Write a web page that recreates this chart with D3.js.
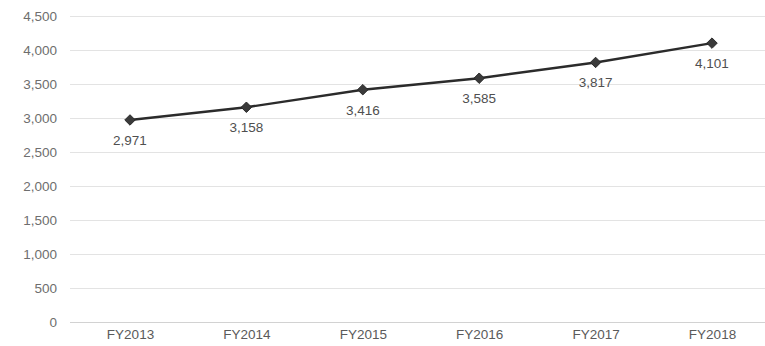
<!DOCTYPE html>
<html>
<head>
<meta charset="utf-8">
<script src="https://cdn.jsdelivr.net/npm/d3@7"></script>
<style>
  html, body { margin: 0; padding: 0; background: #fff; }
  svg { display: block; }
</style>
</head>
<body>
<svg id="chart" width="765" height="346"></svg>
<script>
// Fiscal years and yearly totals
const years = ["FY2013", "FY2014", "FY2015", "FY2016", "FY2017", "FY2018"];
const values = [2971, 3158, 3416, 3585, 3817, 4101];
const yTicks = [0, 500, 1000, 1500, 2000, 2500, 3000, 3500, 4000, 4500];

const svg = d3.select("#chart");
const font = "'Liberation Sans', Arial, sans-serif";

const gridLeft = 70, gridRight = 765;
const x = d3.scalePoint().domain(years).range([130, 712]);
const y = d3.scaleLinear().domain([0, 4500]).range([322, 16]);

// horizontal gridlines
svg.append("g")
  .selectAll("line")
  .data(yTicks)
  .join("line")
  .attr("x1", gridLeft).attr("x2", gridRight)
  .attr("y1", d => y(d) + 0.5).attr("y2", d => y(d) + 0.5)
  .attr("stroke", d => d === 0 ? "#d2d2d2" : "#e3e3e3")
  .attr("stroke-width", 1);

// y axis labels
const yAxis = d3.axisLeft(y).tickValues(yTicks).tickFormat(d3.format(",")).tickSize(0).tickPadding(0);
const gy = svg.append("g").attr("transform", "translate(57,0)").call(yAxis);
gy.select(".domain").remove();
gy.selectAll("text")
  .attr("font-family", font).attr("font-size", 13.5)
  .style("fill", "#6e6e6e");

// x axis labels
const xAxis = d3.axisBottom(x).tickSize(0).tickPadding(0);
const gx = svg.append("g").attr("transform", "translate(0,329)").call(xAxis);
gx.select(".domain").remove();
gx.selectAll("text")
  .attr("font-family", font).attr("font-size", 13.5)
  .style("fill", "#5a5a5a");

const data = years.map((yr, i) => ({ yr, v: values[i] }));

// trend line
svg.append("path")
  .datum(data)
  .attr("d", d3.line().x(d => x(d.yr)).y(d => y(d.v)))
  .attr("fill", "none")
  .attr("stroke", "#2b2b2b")
  .attr("stroke-width", 2.4);

// diamond markers
svg.append("g")
  .selectAll("path")
  .data(data)
  .join("path")
  .attr("transform", d => `translate(${x(d.yr)},${y(d.v)})`)
  .attr("d", d3.symbol().type(d3.symbolDiamond2).size(70))
  .attr("fill", "#3a3a3a")
  .attr("stroke", "#2a2a2a")
  .attr("stroke-width", 1);

// value labels below each point
svg.append("g")
  .selectAll("text")
  .data(data)
  .join("text")
  .attr("x", d => x(d.yr))
  .attr("y", d => y(d.v) + 25)
  .attr("text-anchor", "middle")
  .attr("font-family", font)
  .attr("font-size", 13.5)
  .style("fill", "#4f4f4f")
  .text(d => d3.format(",")(d.v));
</script>
</body>
</html>
